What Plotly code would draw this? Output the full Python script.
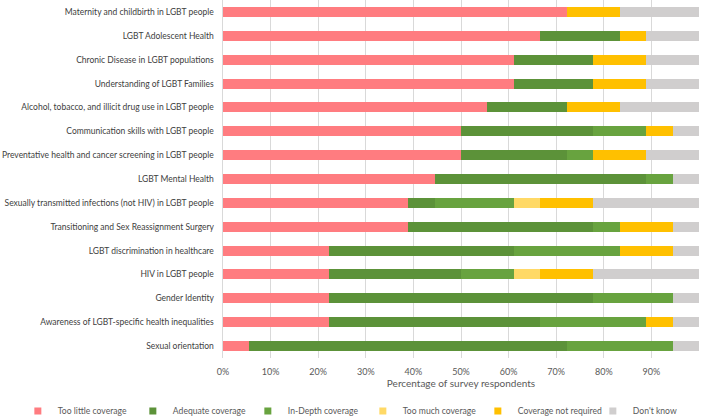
import plotly.graph_objects as go

# Topics, top to bottom as in the chart
topics = [
    'Maternity and childbirth in LGBT people',
    'LGBT Adolescent Health',
    'Chronic Disease in LGBT populations',
    'Understanding of LGBT Families',
    'Alcohol, tobacco, and illicit drug use in LGBT people',
    'Communication skills with LGBT people',
    'Preventative health and cancer screening in LGBT people',
    'LGBT Mental Health',
    'Sexually transmitted infections (not HIV) in LGBT people',
    'Transitioning and Sex Reassignment Surgery',
    'LGBT discrimination in healthcare',
    'HIV in LGBT people',
    'Gender Identity',
    'Awareness of LGBT-specific health inequalities',
    'Sexual orientation',
]

# Number of respondents (out of 18) per answer
n_respondents = 18
too_little   = [13, 12, 11, 11, 10, 9, 9, 8, 7, 7, 4, 4, 4, 4, 1]
adequate     = [0, 3, 3, 3, 3, 5, 4, 8, 1, 7, 7, 5, 10, 8, 12]
in_depth     = [0, 0, 0, 0, 0, 2, 1, 1, 3, 1, 4, 2, 3, 4, 4]
too_much     = [0, 0, 0, 0, 0, 0, 0, 0, 1, 0, 0, 1, 0, 0, 0]
not_required = [2, 1, 2, 2, 2, 1, 2, 0, 2, 2, 2, 2, 0, 1, 0]
dont_know    = [3, 2, 2, 2, 3, 1, 2, 1, 4, 1, 1, 4, 1, 1, 1]

series = [
    ('Too little coverage', too_little, '#FF7C80'),
    ('Adequate coverage', adequate, '#5C9239'),
    ('In-Depth coverage', in_depth, '#68A33F'),
    ('Too much coverage', too_much, '#FFD966'),
    ('Coverage not required', not_required, '#FFC000'),
    ("Don't know", dont_know, '#D0CECE'),
]

fig = go.Figure()
for name, counts, color in series:
    fig.add_trace(go.Bar(
        y=topics,
        x=[c / n_respondents * 100 for c in counts],
        name=name,
        orientation='h',
        marker=dict(color=color, line=dict(width=0)),
        showlegend=False,
    ))

# legend entries with small square keys like the original
for name, counts, color in series:
    fig.add_trace(go.Scatter(
        x=[None], y=[None],
        mode='markers',
        name=name,
        marker=dict(symbol='square', size=7, color=color),
    ))

font_family = 'Lato, Open Sans, sans-serif'
fig.update_layout(
    width=709, height=416,
    barmode='stack',
    bargap=0.58,
    paper_bgcolor='white',
    plot_bgcolor='white',
    margin=dict(l=223, r=10, t=0, b=58, autoexpand=False),
    font=dict(family=font_family, size=9, color='#595959'),
    xaxis=dict(
        range=[0, 100],
        tickvals=list(range(0, 101, 10)),
        ticktext=[f'{v}%' for v in range(0, 101, 10)],
        showgrid=True,
        gridcolor='#D9D9D9',
        gridwidth=1,
        zeroline=False,
        automargin=False,
        ticks='outside',
        ticklen=5,
        tickcolor='rgba(0,0,0,0)',
        tickfont=dict(size=9, color='#595959'),
        title=dict(text='Percentage of survey respondents', font=dict(size=10, color='#595959'), standoff=4),
    ),
    yaxis=dict(
        autorange='reversed',
        showline=True,
        linecolor='#D9D9D9',
        automargin=False,
        tickfont=dict(size=8.5, color='#404040'),
        ticksuffix='   ',
    ),
    legend=dict(
        orientation='h',
        x=-0.431, xanchor='left',
        y=-0.148, yanchor='middle',
        traceorder='normal',
        entrywidth=70, entrywidthmode='pixels',
        font=dict(size=8.6, color='#595959'),
    ),
)

fig.write_html('out.html', config={'displayModeBar': False},
               post_script="document.body.style.margin='0';")
